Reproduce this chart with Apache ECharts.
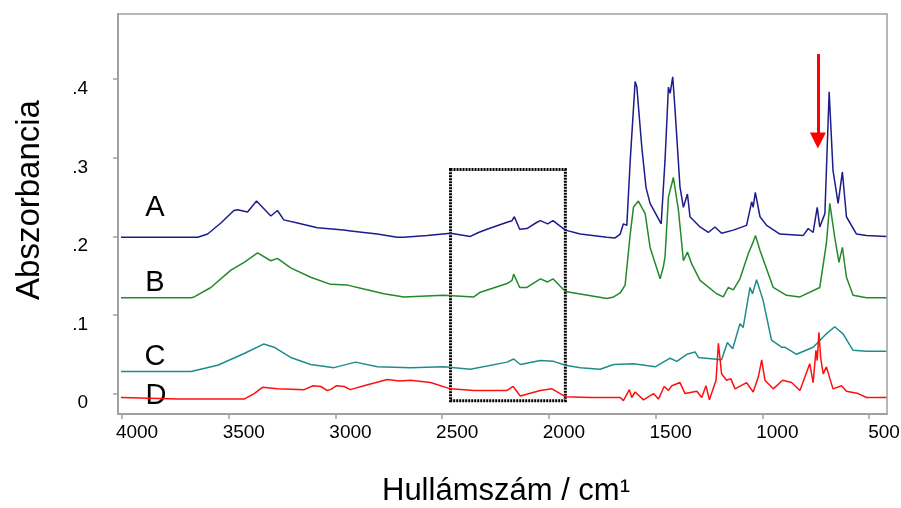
<!DOCTYPE html>
<html>
<head>
<meta charset="utf-8">
<script src="https://cdn.jsdelivr.net/npm/echarts@6/dist/echarts.min.js"></script>
<style>
  html, body { margin: 0; padding: 0; background: #fff; }
  #chart { width: 901px; height: 508px; }
</style>
</head>
<body>
<div id="chart"></div>
<script>
// IR spectra, stacked with vertical offsets: [wavenumber (cm-1), absorbance]
const spectrumA = [
  [4005,0.199],[3645,0.199],[3599,0.203],[3537,0.217],[3476,0.233],[3459,0.234],[3412,0.231],
  [3370,0.245],[3303,0.226],[3272,0.233],[3242,0.221],[3178,0.217],[3085,0.211],[2962,0.208],
  [2929,0.207],[2804,0.203],[2711,0.199],[2681,0.199],[2570,0.201],[2461,0.204],[2368,0.200],
  [2330,0.205],[2290,0.209],[2196,0.218],[2173,0.220],[2162,0.225],[2137,0.209],[2103,0.210],
  [2056,0.218],[2040,0.220],[2006,0.216],[1981,0.220],[1923,0.208],[1853,0.203],[1728,0.199],
  [1690,0.198],[1666,0.203],[1651,0.216],[1635,0.214],[1619,0.297],[1596,0.397],[1588,0.390],
  [1565,0.314],[1545,0.262],[1526,0.242],[1474,0.216],[1456,0.297],[1440,0.390],[1432,0.382],[1420,0.403],
  [1409,0.361],[1386,0.263],[1370,0.237],[1351,0.254],[1339,0.225],[1292,0.212],[1253,0.205],
  [1222,0.212],[1191,0.204],[1136,0.208],[1074,0.214],[1050,0.244],[1043,0.237],[1033,0.256],
  [1011,0.225],[980,0.214],[918,0.203],[809,0.201],[785,0.210],[762,0.205],[743,0.237],
  [731,0.212],[707,0.229],[687,0.384],[669,0.284],[645,0.242],[625,0.282],[606,0.225],
  [559,0.203],[512,0.201],[419,0.200]
];
const spectrumB = [
  [4005,0.122],[3677,0.122],[3662,0.123],[3584,0.135],[3490,0.157],[3428,0.167],[3365,0.179],
  [3303,0.169],[3272,0.172],[3210,0.160],[3116,0.148],[3023,0.139],[2944,0.138],[2867,0.133],
  [2773,0.127],[2680,0.123],[2493,0.125],[2352,0.123],[2321,0.129],[2196,0.140],[2173,0.144],
  [2165,0.152],[2137,0.135],[2103,0.135],[2040,0.146],[2006,0.142],[1981,0.146],[1923,0.130],
  [1728,0.121],[1697,0.123],[1666,0.128],[1643,0.138],[1619,0.203],[1604,0.237],[1581,0.245],
  [1549,0.229],[1526,0.186],[1479,0.146],[1464,0.161],[1456,0.174],[1440,0.250],[1417,0.275],
  [1393,0.233],[1370,0.169],[1351,0.180],[1331,0.165],[1292,0.144],[1214,0.127],[1183,0.123],
  [1160,0.135],[1136,0.132],[1105,0.146],[1066,0.178],[1043,0.193],[1032,0.201],[1011,0.182],
  [949,0.135],[887,0.125],[824,0.123],[731,0.135],[700,0.191],[684,0.242],[661,0.199],
  [641,0.167],[625,0.186],[606,0.148],[575,0.125],[512,0.122],[419,0.122]
];
const spectrumC = [
  [4005,0.028],[3677,0.028],[3552,0.036],[3428,0.051],[3337,0.063],[3288,0.059],[3210,0.046],
  [3116,0.037],[3007,0.033],[2906,0.040],[2804,0.034],[2648,0.033],[2493,0.034],[2368,0.031],
  [2196,0.040],[2165,0.044],[2134,0.037],[2040,0.042],[1978,0.041],[1923,0.036],[1853,0.033],
  [1760,0.031],[1697,0.037],[1604,0.038],[1502,0.034],[1432,0.045],[1401,0.041],[1354,0.050],
  [1315,0.053],[1300,0.046],[1191,0.043],[1164,0.065],[1139,0.057],[1105,0.089],[1090,0.084],
  [1058,0.135],[1046,0.127],[1027,0.145],[996,0.118],[957,0.068],[910,0.059],[895,0.059],
  [840,0.050],[762,0.059],[700,0.076],[661,0.085],[622,0.076],[575,0.055],[512,0.054],[419,0.054]
];
const spectrumD = [
  [4005,-0.005],[3739,-0.007],[3428,-0.007],[3381,0.000],[3342,0.008],[3272,0.006],[3147,0.005],
  [3105,0.010],[3069,0.009],[3040,0.004],[3023,0.005],[2995,0.010],[2960,0.009],[2930,0.005],
  [2867,0.010],[2757,0.018],[2700,0.016],[2648,0.017],[2555,0.014],
  [2461,0.006],[2352,0.004],[2196,0.004],[2168,0.009],[2134,-0.003],[2040,0.004],[1986,0.006],
  [1923,-0.004],[1807,-0.005],[1666,-0.005],[1651,-0.009],[1623,0.005],[1612,-0.005],[1596,0.002],
  [1557,-0.008],[1510,0.000],[1487,-0.007],[1460,0.009],[1440,0.004],[1424,0.010],[1386,0.014],
  [1362,0.000],[1307,0.003],[1284,-0.005],[1264,0.010],[1248,-0.008],[1217,0.017],[1206,0.064],
  [1191,0.025],[1167,0.017],[1148,0.019],[1128,0.006],[1074,0.014],[1043,0.002],[1019,0.021],
  [1003,0.043],[988,0.017],[949,0.006],[905,0.017],[863,0.014],[824,0.004],[778,0.038],
  [762,0.014],[749,0.055],[743,0.042],[735,0.078],[727,0.046],[715,0.025],[700,0.034],
  [669,0.006],[629,0.010],[606,0.003],[551,0.000],[512,-0.005],[419,-0.005]
];

const xTicks = [500, 1000, 1500, 2000, 2500, 3000, 3500, 4000];
const yTicks = [0, 0.1, 0.2, 0.3, 0.4];
const curveNames = ['A', 'B', 'C', 'D'];
const curveColors = ['#1c1c8c', '#23892a', '#1f8c8c', '#ff1010'];

// highlighted region and arrow marker
const boxRange = [[2461, 0.285], [1923, -0.009]];
const arrowRange = [[740, 0.432], [740, 0.322]];

const font = '"Liberation Sans", Arial, sans-serif';
const chart = echarts.init(document.getElementById('chart'), null, { renderer: 'canvas' });

const series = [spectrumA, spectrumB, spectrumC, spectrumD].map((data, i) => ({
  name: curveNames[i],
  type: 'line',
  data: data,
  showSymbol: false,
  symbol: 'none',
  lineStyle: { color: curveColors[i], width: 1.5 },
  itemStyle: { color: curveColors[i] },
  z: 3
}));

series[0].markArea = {
  silent: true,
  itemStyle: { color: 'rgba(0,0,0,0)', borderColor: '#000', borderWidth: 3, borderType: [2, 1] },
  data: [[{ coord: boxRange[0] }, { coord: boxRange[1] }]]
};
series[0].markLine = {
  silent: true,
  symbol: ['none', 'triangle'],
  symbolSize: 16,
  label: { show: false },
  lineStyle: { color: '#ff0000', width: 3, type: 'solid' },
  itemStyle: { color: '#ff0000' },
  data: [[{ coord: arrowRange[0] }, { coord: arrowRange[1] }]]
};

chart.setOption({
  animation: false,
  backgroundColor: '#fff',
  grid: {
    left: 118, right: 14, top: 14, bottom: 94, outerBoundsMode: 'none', containLabel: false,
    show: true, borderColor: '#a0a0a0', borderWidth: 1.5, backgroundColor: 'transparent'
  },
  xAxis: {
    type: 'value',
    inverse: true,
    min: 416,
    max: 4019,
    splitLine: { show: false },
    axisLine: { show: true, onZero: false, lineStyle: { color: '#a0a0a0', width: 2 } },
    axisTick: { show: true, customValues: xTicks, length: 5, lineStyle: { color: '#a0a0a0', width: 1.5 } },
    axisLabel: {
      customValues: xTicks, color: '#000', fontSize: 19, fontFamily: font, margin: 9, padding: [0, 0, 0, 30],
      formatter: v => String(v)
    }
  },
  yAxis: {
    type: 'value',
    min: -0.026,
    max: 0.483,
    splitLine: { show: false },
    axisLine: { show: true, lineStyle: { color: '#a0a0a0', width: 2 } },
    axisTick: { show: true, customValues: yTicks, length: 5, lineStyle: { color: '#a0a0a0', width: 1.5 } },
    axisLabel: {
      customValues: yTicks, color: '#000', fontSize: 19, fontFamily: font, margin: 30, verticalAlign: 'top',
      formatter: v => (Math.abs(v) < 1e-9 ? '0' : '.' + Math.round(v * 10))
    }
  },
  graphic: [
    { type: 'text', x: 30, y: 200, rotation: Math.PI / 2,
      style: { text: 'Abszorbancia', font: '33px ' + font, fill: '#000', align: 'center', verticalAlign: 'middle' } },
    { type: 'text', x: 506, y: 491,
      style: { text: 'Hullámszám / cm¹', font: '31px ' + font, fill: '#000', align: 'center', verticalAlign: 'middle' } },
    { type: 'text', x: 155, y: 208, style: { text: curveNames[0], font: '29px ' + font, fill: '#000', align: 'center', verticalAlign: 'middle' } },
    { type: 'text', x: 155, y: 283, style: { text: curveNames[1], font: '29px ' + font, fill: '#000', align: 'center', verticalAlign: 'middle' } },
    { type: 'text', x: 155, y: 357, style: { text: curveNames[2], font: '29px ' + font, fill: '#000', align: 'center', verticalAlign: 'middle' } },
    { type: 'text', x: 156, y: 396, style: { text: curveNames[3], font: '29px ' + font, fill: '#000', align: 'center', verticalAlign: 'middle' } }
  ],
  series: series
});
</script>
</body>
</html>
